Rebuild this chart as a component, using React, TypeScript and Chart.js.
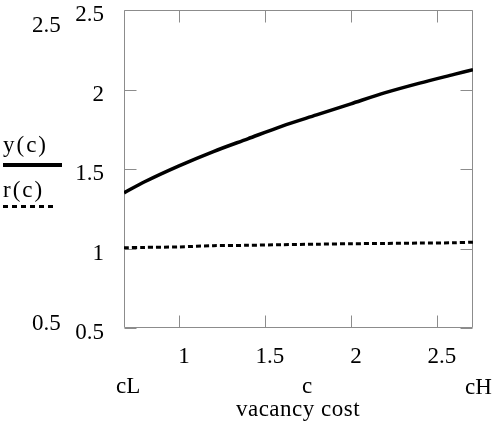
import React, { useEffect, useRef } from "react";
import { Chart, registerables } from "chart.js";

Chart.register(...registerables);

// ---- data ----
const C_VALUES = [0.68, 0.8, 1.0, 1.2, 1.4, 1.6, 1.8, 2.0, 2.2, 2.4, 2.6, 2.71];
const Y_VALUES = [1.35, 1.42, 1.52, 1.61, 1.69, 1.77, 1.84, 1.91, 1.98, 2.04, 2.095, 2.125];
const R_VALUES = [1.005, 1.007, 1.01, 1.018, 1.02, 1.024, 1.027, 1.03, 1.032, 1.034, 1.036, 1.04];
const X_TICKS = [1, 1.5, 2, 2.5];
const Y_TICKS = [0.5, 1, 1.5, 2, 2.5];
const X_MIN = 0.68;
const X_MAX = 2.71;
const Y_MIN = 0.5;
const Y_MAX = 2.5;
const SERIES_LABELS = ["y(c)", "r(c)"];
const SIDE_LABELS = ["2.5", "0.5"];
const BOTTOM_LABELS = ["cL", "c", "cH"];
const X_TITLE = "vacancy cost";

const FONT_FAMILY = "'Liberation Serif', 'Times New Roman', serif";
const FONT_SIZE = 23;
const FRAME = "#8c8c8c";

const framePlugin = {
  id: "frameTicks",
  beforeDatasetsDraw(chart: any) {
    const { ctx, chartArea: a, scales } = chart;
    const xs = scales.x;
    const ys = scales.y;
    ctx.save();
    ctx.strokeStyle = FRAME;
    ctx.lineWidth = 1;
    const l = Math.round(a.left) + 0.5;
    const r = Math.round(a.right) - 0.5;
    const t = Math.round(a.top) + 0.5;
    const b = Math.round(a.bottom) - 0.5;
    ctx.beginPath();
    ctx.rect(l, t, r - l, b - t);
    const TL = 12;
    xs.ticks.forEach((tk: any) => {
      const px = Math.round(xs.getPixelForValue(tk.value)) + 0.5;
      ctx.moveTo(px, b);
      ctx.lineTo(px, b - TL);
      ctx.moveTo(px, t);
      ctx.lineTo(px, t + TL);
    });
    ys.ticks.forEach((tk: any) => {
      const py = Math.round(ys.getPixelForValue(tk.value)) + 0.5;
      ctx.moveTo(l, py);
      ctx.lineTo(l + TL, py);
      ctx.moveTo(r, py);
      ctx.lineTo(r - TL, py);
    });
    ctx.stroke();
    ctx.restore();
  },
  afterDraw(chart: any) {
    const { ctx } = chart;
    ctx.save();
    ctx.fillStyle = "#000";
    ctx.font = `${FONT_SIZE}px ${FONT_FAMILY}`;
    ctx.textBaseline = "alphabetic";
    ctx.textAlign = "left";
    // side labels
    ctx.fillText(SIDE_LABELS[0], 32, 32);
    ctx.fillText(SIDE_LABELS[1], 32, 330);
    // series legend
    (ctx as any).letterSpacing = "2px";
    ctx.fillText(SERIES_LABELS[0], 3, 152);
    ctx.fillText(SERIES_LABELS[1], 3, 197);
    (ctx as any).letterSpacing = "0px";
    ctx.strokeStyle = "#000";
    ctx.lineWidth = 4;
    ctx.beginPath();
    ctx.moveTo(3, 165);
    ctx.lineTo(62, 165);
    ctx.stroke();
    ctx.lineWidth = 3;
    ctx.setLineDash([5, 4]);
    ctx.beginPath();
    ctx.moveTo(3, 206.5);
    ctx.lineTo(56, 206.5);
    ctx.stroke();
    ctx.setLineDash([]);
    // bottom labels
    ctx.fillText(BOTTOM_LABELS[0], 116, 393);
    ctx.textAlign = "center";
    ctx.fillText(BOTTOM_LABELS[1], 307, 393);
    ctx.textAlign = "left";
    ctx.fillText(BOTTOM_LABELS[2], 465, 394);
    ctx.textAlign = "center";
    (ctx as any).letterSpacing = "0.5px";
    ctx.fillText(X_TITLE, 298, 416);
    ctx.restore();
  },
};

export default function App() {
  const ref = useRef<HTMLCanvasElement | null>(null);
  useEffect(() => {
    if (!ref.current) return;
    const font = { family: FONT_FAMILY, size: FONT_SIZE };
    const chart = new Chart(ref.current, {
      type: "line",
      data: {
        datasets: [
          {
            label: SERIES_LABELS[0],
            data: C_VALUES.map((c, i) => ({ x: c, y: Y_VALUES[i] })),
            borderColor: "#000",
            borderWidth: 3.5,
            pointRadius: 0,
            tension: 0.3,
            fill: false,
          },
          {
            label: SERIES_LABELS[1],
            data: C_VALUES.map((c, i) => ({ x: c, y: R_VALUES[i] })),
            borderColor: "#000",
            borderWidth: 3,
            borderDash: [5, 3],
            pointRadius: 0,
            tension: 0.3,
            fill: false,
          },
        ],
      },
      options: {
        animation: false,
        responsive: false,
        maintainAspectRatio: false,
        devicePixelRatio: 1,
        layout: { padding: { top: 10, right: 21, left: 0, bottom: 0 } },
        plugins: { legend: { display: false }, tooltip: { enabled: false } },
        scales: {
          x: {
            type: "linear",
            min: X_MIN,
            max: X_MAX,
            grid: { display: false },
            border: { display: false },
            afterBuildTicks: (s: any) => {
              s.ticks = X_TICKS.map((v) => ({ value: v }));
            },
            afterFit: (s: any) => {
              s.height = 100;
              s.paddingLeft = 0;
              s.paddingRight = 0;
            },
            ticks: {
              font,
              color: "#000",
              padding: 7,
              labelOffset: 5,
              maxRotation: 0,
              autoSkip: false,
              callback: (v: any) => String(v),
            },
          },
          y: {
            type: "linear",
            min: Y_MIN,
            max: Y_MAX,
            grid: { display: false },
            border: { display: false },
            afterBuildTicks: (s: any) => {
              s.ticks = Y_TICKS.map((v) => ({ value: v }));
            },
            afterFit: (s: any) => {
              s.width = 124;
              s.paddingTop = 0;
              s.paddingBottom = 0;
            },
            ticks: {
              font,
              color: "#000",
              padding: 12,
              labelOffset: 5,
              autoSkip: false,
              callback: (v: any) => String(v),
            },
          },
        },
      },
      plugins: [framePlugin],
    });
    return () => chart.destroy();
  }, []);
  return (
    <div style={{ position: "absolute", left: 0, top: 0, width: 494, height: 428, background: "#fff" }}>
      <canvas ref={ref} width={494} height={428} style={{ width: 494, height: 428, display: "block" }} />
    </div>
  );
}
